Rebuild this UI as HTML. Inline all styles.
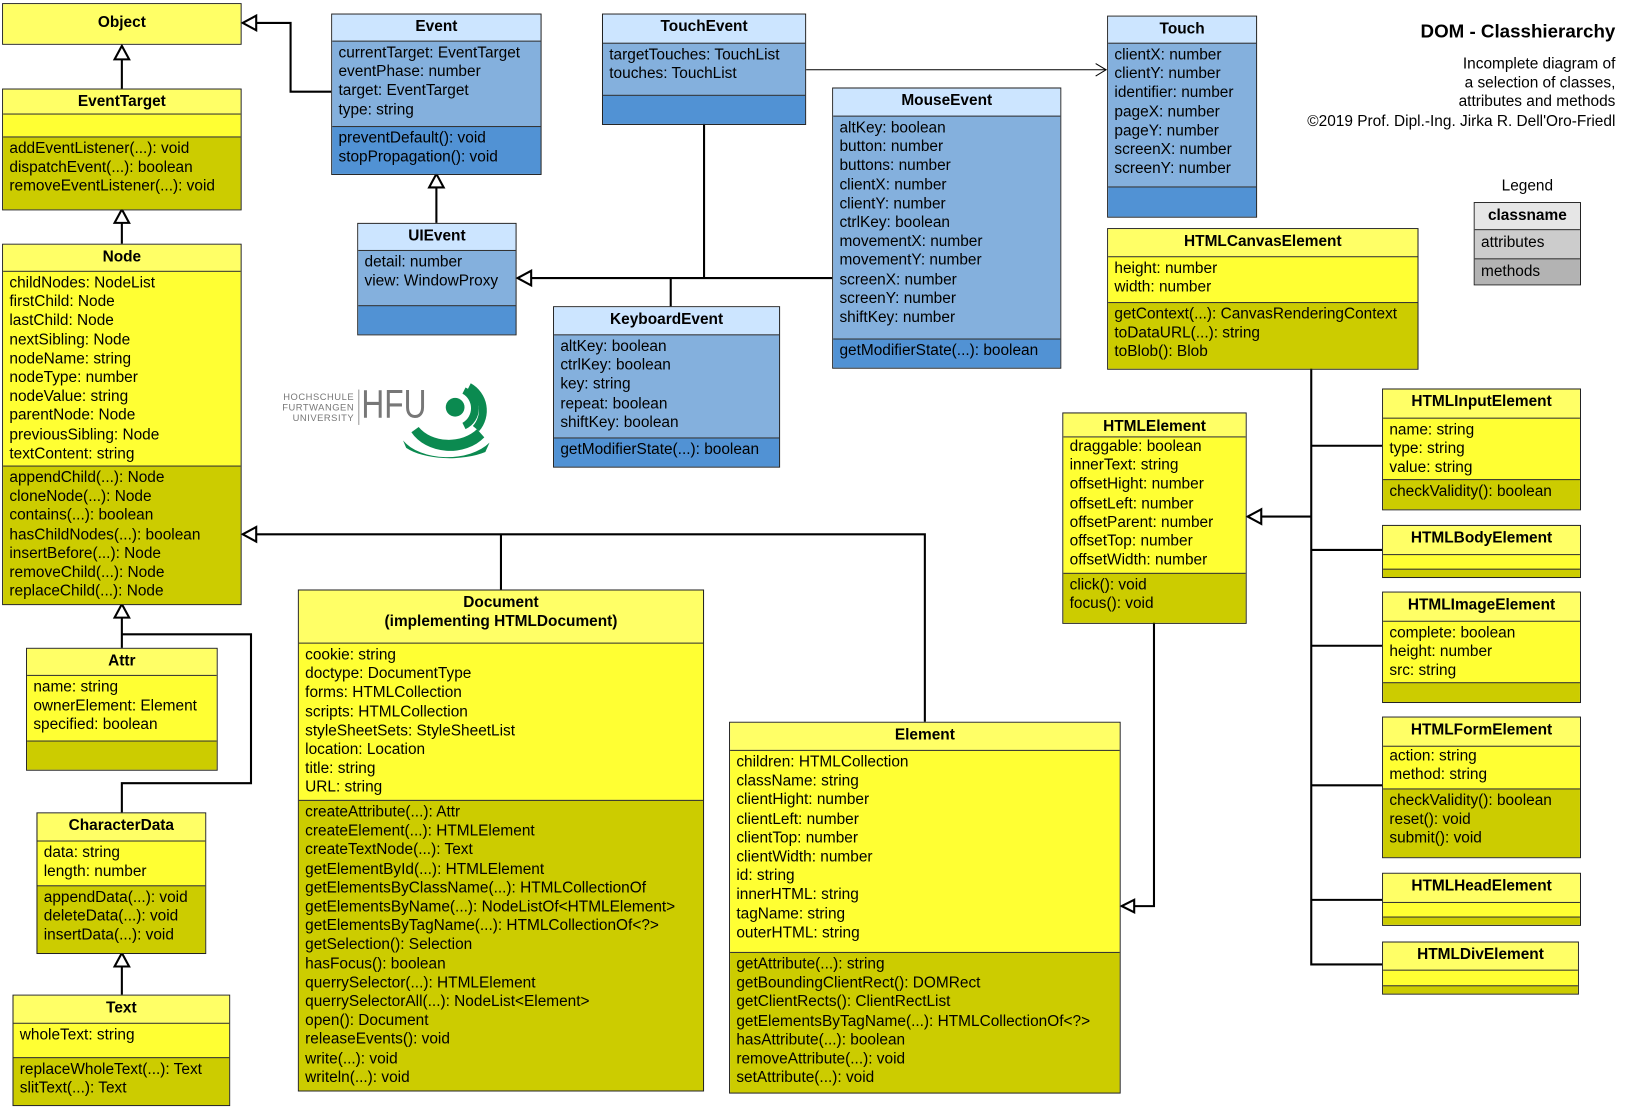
<!DOCTYPE html>
<html><head><meta charset="utf-8"><style>
html,body{margin:0;padding:0;background:#fff;}
body{width:1633px;height:1107px;overflow:hidden;position:relative;font-family:"Liberation Sans",Arial,sans-serif;}
#c{position:absolute;left:0;top:0;width:1563px;height:1060px;transform-origin:0 0;transform:scale(1.0415,1.0415);}
.b{position:absolute;border:1px solid #222;box-sizing:border-box;font-size:14.8px;line-height:18.2px;color:#000;}
.b>div{box-sizing:border-box;overflow:hidden;white-space:nowrap;}
.h{font-weight:bold;text-align:center;padding-top:3px;}
.a,.m{border-top:1px solid #333;padding:2px 0 0 6px;}
.hy{background:#ffff66}.ay{background:#ffff33}.my{background:#cccc00}
.hb{background:#cce5ff}.ab{background:#84b0dd}.mb{background:#5192d4}
.t{position:absolute;font-size:14.8px;color:#000;text-align:right;}
svg{position:absolute;left:0;top:0;}
</style></head><body><div id="c">
<svg width="1563" height="1060" viewBox="0 0 1563 1060" fill="none" stroke="#000" stroke-width="2">
<path d="M117 85V44"/>
<path d="M117 234V201"/>
<path d="M318 88H279V22H233"/>
<path d="M419 214V167"/>
<path d="M799 267H497M676 118V267M644 267V294"/>
<path d="M774 67H1062" stroke-width="1"/>
<path d="M1052 61L1062 67L1052 73" stroke-width="1"/>
<path d="M117 622V580M117 780V752H241V609H117"/>
<path d="M117 955V915"/>
<path d="M233 513H888V693M481 513V566"/>
<path d="M1108 597V870H1077"/>
<path d="M1259 353V926H1327M1198 496H1259M1259 428H1327M1259 528H1327M1259 620H1327M1259 754H1327M1259 864H1327"/>
<g fill="#fff" stroke-width="2">
<polygon points="117,44 110,57 124,57"/>
<polygon points="117,201 110,214 124,214"/>
<polygon points="233,22 246,15 246,29"/>
<polygon points="419,167 412,180 426,180"/>
<polygon points="497,267 510,260 510,274"/>
<polygon points="117,580 110,593 124,593"/>
<polygon points="117,915 110,928 124,928"/>
<polygon points="233,513 246,506 246,520"/>
<polygon points="1077,870 1089,864 1089,876"/>
<polygon points="1198,496 1211,489 1211,503"/>
</g>
</svg>

<div class="b" style="left:2px;top:3px;width:230px;height:40px"><div class="h hy" style="height:38px;padding-top:9px">Object</div></div>

<div class="b" style="left:2px;top:85px;width:230px"><div class="h hy" style="height:23px">EventTarget</div><div class="a ay" style="height:22px"></div><div class="m my" style="height:70px">addEventListener(...): void<br>dispatchEvent(...): boolean<br>removeEventListener(...): void</div></div>

<div class="b" style="left:2px;top:234px;width:230px"><div class="h hy" style="height:25px">Node</div><div class="a ay" style="height:187px">childNodes: NodeList<br>firstChild: Node<br>lastChild: Node<br>nextSibling: Node<br>nodeName: string<br>nodeType: number<br>nodeValue: string<br>parentNode: Node<br>previousSibling: Node<br>textContent: string</div><div class="m my" style="height:133px">appendChild(...): Node<br>cloneNode(...): Node<br>contains(...): boolean<br>hasChildNodes(...): boolean<br>insertBefore(...): Node<br>removeChild(...): Node<br>replaceChild(...): Node</div></div>

<div class="b" style="left:25px;top:622px;width:184px"><div class="h hy" style="height:25px">Attr</div><div class="a ay" style="height:63px">name: string<br>ownerElement: Element<br>specified: boolean</div><div class="m my" style="height:28px"></div></div>

<div class="b" style="left:35px;top:780px;width:163px"><div class="h hy" style="height:26px">CharacterData</div><div class="a ay" style="height:43px">data: string<br>length: number</div><div class="m my" style="height:65px">appendData(...): void<br>deleteData(...): void<br>insertData(...): void</div></div>

<div class="b" style="left:12px;top:955px;width:209px"><div class="h hy" style="height:26px">Text</div><div class="a ay" style="height:33px">wholeText: string</div><div class="m my" style="height:46px">replaceWholeText(...): Text<br>slitText(...): Text</div></div>

<div class="b" style="left:318px;top:13px;width:202px"><div class="h hb" style="height:25px">Event</div><div class="a ab" style="height:82px">currentTarget: EventTarget<br>eventPhase: number<br>target: EventTarget<br>type: string</div><div class="m mb" style="height:46px">preventDefault(): void<br>stopPropagation(): void</div></div>

<div class="b" style="left:343px;top:214px;width:153px"><div class="h hb" style="height:25px">UIEvent</div><div class="a ab" style="height:53px">detail: number<br>view: WindowProxy</div><div class="m mb" style="height:28px"></div></div>

<div class="b" style="left:578px;top:13px;width:196px"><div class="h hb" style="height:27px">TouchEvent</div><div class="a ab" style="height:50px">targetTouches: TouchList<br>touches: TouchList</div><div class="m mb" style="height:28px"></div></div>

<div class="b" style="left:799px;top:84px;width:220px"><div class="h hb" style="height:26px">MouseEvent</div><div class="a ab" style="height:214px">altKey: boolean<br>button: number<br>buttons: number<br>clientX: number<br>clientY: number<br>ctrlKey: boolean<br>movementX: number<br>movementY: number<br>screenX: number<br>screenY: number<br>shiftKey: number</div><div class="m mb" style="height:28px">getModifierState(...): boolean</div></div>

<div class="b" style="left:531px;top:294px;width:218px"><div class="h hb" style="height:26px">KeyboardEvent</div><div class="a ab" style="height:99px">altKey: boolean<br>ctrlKey: boolean<br>key: string<br>repeat: boolean<br>shiftKey: boolean</div><div class="m mb" style="height:28px">getModifierState(...): boolean</div></div>

<div class="b" style="left:1063px;top:15px;width:144px"><div class="h hb" style="height:25px">Touch</div><div class="a ab" style="height:138px">clientX: number<br>clientY: number<br>identifier: number<br>pageX: number<br>pageY: number<br>screenX: number<br>screenY: number</div><div class="m mb" style="height:29px"></div></div>

<div class="b" style="left:1063px;top:219px;width:299px"><div class="h hy" style="height:26px">HTMLCanvasElement</div><div class="a ay" style="height:44px">height: number<br>width: number</div><div class="m my" style="height:64px">getContext(...): CanvasRenderingContext<br>toDataURL(...): string<br>toBlob(): Blob</div></div>

<div class="b" style="left:1020px;top:396px;width:177px"><div class="h hy" style="height:22px;padding-top:4px">HTMLElement</div><div class="a ay" style="height:131px;padding-top:0">draggable: boolean<br>innerText: string<br>offsetHight: number<br>offsetLeft: number<br>offsetParent: number<br>offsetTop: number<br>offsetWidth: number</div><div class="m my" style="height:48px">click(): void<br>focus(): void</div></div>

<div class="b" style="left:1327px;top:373px;width:191px"><div class="h hy" style="height:27px">HTMLInputElement</div><div class="a ay" style="height:59px">name: string<br>type: string<br>value: string</div><div class="m my" style="height:29px">checkValidity(): boolean</div></div>

<div class="b" style="left:1327px;top:504px;width:191px"><div class="h hy" style="height:27px">HTMLBodyElement</div><div class="a ay" style="height:14px"></div><div class="m my" style="height:8px"></div></div>

<div class="b" style="left:1327px;top:568px;width:191px"><div class="h hy" style="height:27px">HTMLImageElement</div><div class="a ay" style="height:59px">complete: boolean<br>height: number<br>src: string</div><div class="m my" style="height:19px"></div></div>

<div class="b" style="left:1327px;top:688px;width:191px"><div class="h hy" style="height:27px">HTMLFormElement</div><div class="a ay" style="height:41px;padding-top:0">action: string<br>method: string</div><div class="m my" style="height:66px">checkValidity(): boolean<br>reset(): void<br>submit(): void</div></div>

<div class="b" style="left:1327px;top:838px;width:191px"><div class="h hy" style="height:27px">HTMLHeadElement</div><div class="a ay" style="height:14px"></div><div class="m my" style="height:8px"></div></div>

<div class="b" style="left:1327px;top:904px;width:189px"><div class="h hy" style="height:26px">HTMLDivElement</div><div class="a ay" style="height:15px"></div><div class="m my" style="height:8px"></div></div>

<div class="b" style="left:286px;top:566px;width:390px"><div class="h hy" style="height:50px">Document<br>(implementing HTMLDocument)</div><div class="a ay" style="height:151px">cookie: string<br>doctype: DocumentType<br>forms: HTMLCollection<br>scripts: HTMLCollection<br>styleSheetSets: StyleSheetList<br>location: Location<br>title: string<br>URL: string</div><div class="m my" style="height:279px">createAttribute(...): Attr<br>createElement(...): HTMLElement<br>createTextNode(...): Text<br>getElementById(...): HTMLElement<br>getElementsByClassName(...): HTMLCollectionOf<br>getElementsByName(...): NodeListOf&lt;HTMLElement&gt;<br>getElementsByTagName(...): HTMLCollectionOf&lt;?&gt;<br>getSelection(): Selection<br>hasFocus(): boolean<br>querrySelector(...): HTMLElement<br>querrySelectorAll(...): NodeList&lt;Element&gt;<br>open(): Document<br>releaseEvents(): void<br>write(...): void<br>writeln(...): void</div></div>

<div class="b" style="left:700px;top:693px;width:376px"><div class="h hy" style="height:26px">Element</div><div class="a ay" style="height:194px">children: HTMLCollection<br>className: string<br>clientHight: number<br>clientLeft: number<br>clientTop: number<br>clientWidth: number<br>id: string<br>innerHTML: string<br>tagName: string<br>outerHTML: string</div><div class="m my" style="height:135px">getAttribute(...): string<br>getBoundingClientRect(): DOMRect<br>getClientRects(): ClientRectList<br>getElementsByTagName(...): HTMLCollectionOf&lt;?&gt;<br>hasAttribute(...): boolean<br>removeAttribute(...): void<br>setAttribute(...): void</div></div>

<div class="b" style="left:1415px;top:194px;width:103px"><div class="h" style="height:25px;background:#e6e6e6">classname</div><div class="a" style="height:28px;background:#cccccc;padding-top:3px">attributes</div><div class="m" style="height:25px;background:#b3b3b3;padding-top:3px">methods</div></div>
<div class="t" style="left:1415px;top:171px;width:103px;text-align:center">Legend</div>

<div class="t" style="left:1150px;top:20px;width:401px;font-size:18px;font-weight:bold">DOM - Classhierarchy</div>
<div class="t" style="left:1150px;top:53px;width:401px;line-height:18.2px">Incomplete diagram of<br>a selection of classes,<br>attributes and methods<br>©2019 Prof. Dipl.-Ing. Jirka R. Dell'Oro-Friedl</div>

<div style="position:absolute;left:271px;top:376px;font-size:9px;line-height:10px;color:#777;text-align:right;letter-spacing:0.5px">HOCHSCHULE<br>FURTWANGEN<br>UNIVERSITY</div>
<div style="position:absolute;left:344px;top:374px;width:1px;height:34px;background:#999"></div>
<div style="position:absolute;left:347px;top:369px;font-size:38px;line-height:40px;color:#777;transform:scaleX(0.8);transform-origin:0 0">HFU</div>
<svg width="1563" height="1060" style="left:0;top:0" viewBox="0 0 1563 1060">
<circle cx="437" cy="391" r="9" fill="#0b8a50"/>
<path d="M447 372 A22 22 0 0 1 447 412 L444 406 A16 16 0 0 0 444 378 Z" fill="#0b8a50"/>
<path d="M452 368 A30 30 0 0 1 460 414 L454 409 A23 23 0 0 0 449 374 Z" fill="#0b8a50"/>
<path d="M395 415 A42 34 0 0 0 465 420 L458 412 A34 26 0 0 1 402 410 Z" fill="#0b8a50"/>
<path d="M387 423 A48 30 0 0 0 470 425 L466 434 A50 22 0 0 1 390 430 Z" fill="#0b8a50"/>
</svg>
</div></body></html>
